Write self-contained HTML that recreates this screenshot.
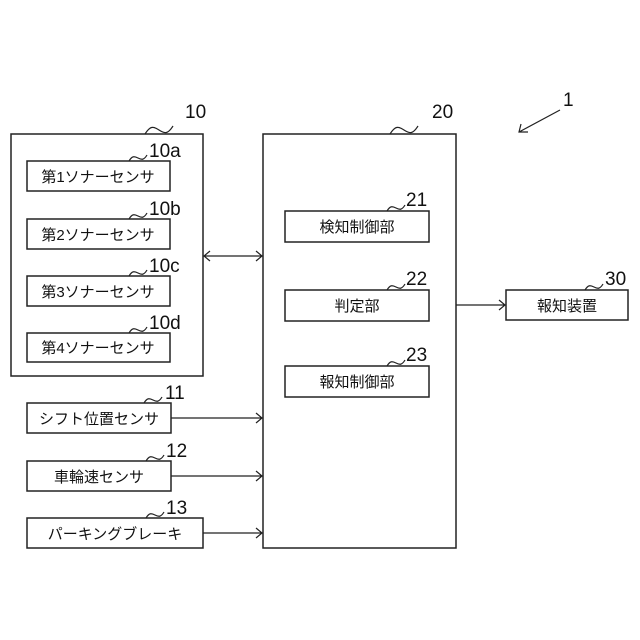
<!DOCTYPE html>
<html><head><meta charset="utf-8"><style>body{margin:0;background:#fff}svg{display:block}text{font-family:"Liberation Sans","Noto Sans CJK JP",sans-serif;fill:#111}</style></head><body>
<svg width="640" height="640" viewBox="0 0 640 640" xmlns="http://www.w3.org/2000/svg">
<g fill="none" stroke="#222" stroke-width="1.5">
<rect x="11" y="134" width="192" height="242"/>
<rect x="27" y="161" width="143" height="30"/>
<rect x="27" y="219" width="143" height="30"/>
<rect x="27" y="276" width="143" height="30"/>
<rect x="27" y="333" width="143" height="29"/>
<rect x="263" y="134" width="193" height="414"/>
<rect x="285" y="211" width="144" height="31"/>
<rect x="285" y="290" width="144" height="31"/>
<rect x="285" y="366" width="144" height="31"/>
<rect x="506" y="290" width="122" height="30"/>
<rect x="27" y="403" width="144" height="30"/>
<rect x="27" y="461" width="144" height="30"/>
<rect x="27" y="518" width="176" height="30"/>
</g>
<g fill="none" stroke="#222" stroke-width="1.2">
<path d="M203 256H263M210 251l-6 5 6 5M256 251l6 5-6 5"/>
<path d="M456 305H506M499 300l6 5-6 5"/>
<path d="M171 418H263M256 413l6 5-6 5"/>
<path d="M171 476H263M256 471l6 5-6 5"/>
<path d="M203 533H263M256 528l6 5-6 5"/>
<path d="M560 110L519 132M521 124l-2 8 9 0"/>
<path d="M145 134c5-8 8-8 14-4s9 4 14-4"/>
<path d="M129 161c3-5 5-5 9-3s6 2 9-3"/>
<path d="M129 219c3-5 5-5 9-3s6 2 9-3"/>
<path d="M129 276c3-5 5-5 9-3s6 2 9-3"/>
<path d="M129 333c3-5 5-5 9-3s6 2 9-3"/>
<path d="M390 134c5-8 8-8 14-4s9 4 14-4"/>
<path d="M387 211c3-5 5-5 9-3s6 2 9-3"/>
<path d="M387 290c3-5 5-5 9-3s6 2 9-3"/>
<path d="M387 366c3-5 5-5 9-3s6 2 9-3"/>
<path d="M585 290c3-5 5-5 9-3s6 2 9-3"/>
<path d="M144 403c3-5 5-5 9-3s6 2 9-3"/>
<path d="M146 461c3-5 5-5 9-3s6 2 9-3"/>
<path d="M146 518c3-5 5-5 9-3s6 2 9-3"/>
</g>
<g font-size="19">
<text x="185" y="118">10</text>
<text x="149" y="157">10a</text>
<text x="149" y="215">10b</text>
<text x="149" y="272">10c</text>
<text x="149" y="329">10d</text>
<text x="432" y="118">20</text>
<text x="406" y="206">21</text>
<text x="406" y="285">22</text>
<text x="406" y="361">23</text>
<text x="605" y="285">30</text>
<text x="563" y="106">1</text>
<text x="165" y="399">11</text>
<text x="166" y="457">12</text>
<text x="166" y="514">13</text>
</g>
<g font-size="15" text-anchor="middle">
<text x="98" y="182">第1ソナーセンサ</text>
<text x="98" y="240">第2ソナーセンサ</text>
<text x="98" y="297">第3ソナーセンサ</text>
<text x="98" y="353">第4ソナーセンサ</text>
<text x="357" y="232">検知制御部</text>
<text x="357" y="311">判定部</text>
<text x="357" y="387">報知制御部</text>
<text x="567" y="311">報知装置</text>
<text x="99" y="424">シフト位置センサ</text>
<text x="99" y="482">車輪速センサ</text>
<text x="115" y="539">パーキングブレーキ</text>
</g>
</svg>
</body></html>
